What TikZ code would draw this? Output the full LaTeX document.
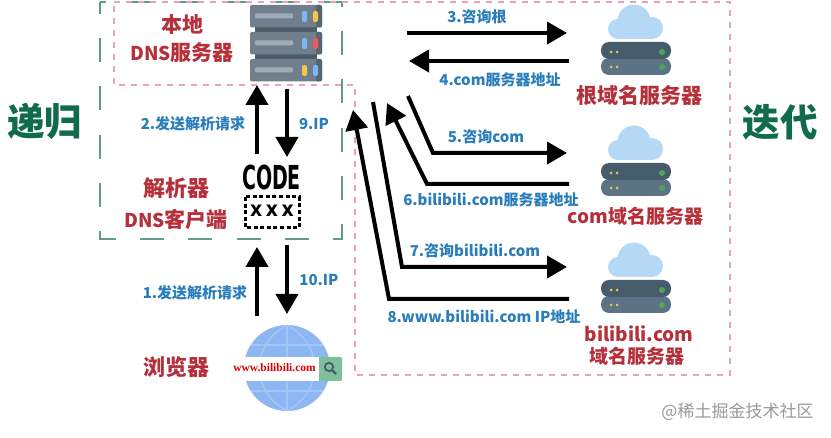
\documentclass[tikz,border=0pt]{standalone}
\usepackage{fontspec}
\setmainfont{Noto Sans CJK SC}
\newfontfamily\lat{Noto Sans CJK SC}[Scale=0.905]
\newfontfamily\condfont{DejaVu Sans Condensed}
\usetikzlibrary{arrows.meta,calc}
\definecolor{redtxt}{HTML}{B5303A}
\definecolor{bluetxt}{HTML}{2A7DBB}
\definecolor{greentxt}{HTML}{0F6B4A}
\definecolor{greenbox}{HTML}{5F9C86}
\definecolor{pinkbox}{HTML}{E8A3BC}
\definecolor{cloudc}{HTML}{B5D8F5}
\definecolor{srvA}{HTML}{465C6B}
\definecolor{srvB}{HTML}{5B7385}
\definecolor{rackA}{HTML}{707F8B}
\definecolor{rackB}{HTML}{56666F}
\definecolor{rackC}{HTML}{4C5D68}
\definecolor{rackD}{HTML}{A0ACB4}
\definecolor{globeA}{HTML}{8DB7F2}
\definecolor{globeB}{HTML}{A3C6F6}
\definecolor{ledB}{HTML}{7DB6F2}
\definecolor{ledY}{HTML}{F3C64E}
\definecolor{ledR}{HTML}{EE5A5F}
\definecolor{ledG}{HTML}{4FA85A}
\definecolor{dotY}{HTML}{E9C85A}
\definecolor{searchG}{HTML}{7FBF9E}
\tikzset{
  x=1pt,y=-1pt,
  redlabel/.style={text=redtxt,font=\bfseries\fontsize{21}{23}\selectfont,inner sep=0pt,align=center},
  redsmall/.style={text=redtxt,font=\bfseries\fontsize{19}{21}\selectfont,inner sep=0pt,align=center},
  redwide/.style={text=redtxt,font=\bfseries\fontsize{22}{24}\selectfont,inner sep=0pt,align=center},
  bluelabel/.style={text=bluetxt,font=\bfseries\fontsize{15}{17}\selectfont,inner sep=0pt},
  biglabel/.style={text=greentxt,font=\bfseries\fontsize{37.5}{40}\selectfont,inner sep=0pt},
  flow/.style={draw=black,line width=4pt,-{Triangle[length=20pt,width=22pt]}},
  greendash/.style={draw=greenbox,line width=1.3pt,dash pattern=on 24pt off 24.2pt,dash phase=12pt},
  pinkdash/.style={draw=pinkbox,line width=1.3pt,dash pattern=on 6pt off 6pt},
}
\newcommand{\cloudsrv}[1]{%
\begin{scope}[shift={(0,#1)}]
  \fill[cloudc] (634,21) circle(16.5);
  \fill[cloudc] (618,29) circle(10);
  \fill[cloudc] (652,28) circle(11);
  \fill[cloudc] (618,27) rectangle (652,39);
  \fill[srvB,rounded corners=8pt] (601,58) rectangle (671,75);
  \fill[srvA,rounded corners=8pt] (601,42) rectangle (671,59);
  \foreach \yy in {52,67}{
    \fill[dotY] (611,\yy) circle(1.5);
    \fill[dotY] (617,\yy) circle(1.5);
    \fill[ledG] (662,\yy) circle(3);
  }
\end{scope}}
\begin{document}
\begin{tikzpicture}
\useasboundingbox (0,0) rectangle (831,438);
\fill[white] (0,0) rectangle (831,438);
% frames
\draw[greendash] (100,2) rectangle (342,239);
\draw[pinkdash] (114,2) -- (730,2) -- (730,375) -- (355,375) -- (355,85) -- (114,85) -- cycle;
% local server
\fill[rackC] (255,26) rectangle (317,33);
\fill[rackC] (255,53) rectangle (317,60);
\foreach \yy/\ca/\cb in {5/ledB/ledY,32/ledB/ledR,59/ledY/ledB}{
  \fill[rackA,rounded corners=2pt] (250,\yy) rectangle (322,\yy+22.5);
  \fill[rackB,rounded corners=2pt] (316,\yy) rectangle (322,\yy+22.5);
  \fill[rackD,rounded corners=1pt] (255,\yy+8.5) rectangle (293,\yy+13.5);
  \fill[\ca,rounded corners=2pt] (302,\yy+6) rectangle (307,\yy+17);
  \fill[\cb,rounded corners=2pt] (313,\yy+6) rectangle (318,\yy+17);
}
\cloudsrv{0}
\cloudsrv{121}
\cloudsrv{238}
% CODE icon
\node[inner sep=0pt,font=\condfont\bfseries\fontsize{33}{33}\selectfont,xscale=.64] (code) at (271.5,177) {CODE};
\draw[line width=3pt,dash pattern=on 4pt off 2.6pt] (245,197) rectangle (299,228);
\node[inner sep=0pt,font=\condfont\bfseries\fontsize{21}{21}\selectfont] (xxx) at (272,211) {x\,x\,x};
% globe
\fill[globeA] (287,368) circle(43);
\begin{scope}
  \clip (287,368) circle(43);
  \draw[globeB,line width=1.5pt] (287,325) -- (287,411) (244,368) -- (330,368);
  \draw[globeB,line width=1.5pt] (245,345) -- (329,345) (245,391) -- (329,391);
  \draw[globeB,line width=1.5pt] (287,325) .. controls (250,345) and (250,391) .. (287,411);
  \draw[globeB,line width=1.5pt] (287,325) .. controls (324,345) and (324,391) .. (287,411);
\end{scope}
\fill[white] (232,357) rectangle (319,381);
\fill[searchG,rounded corners=1.5pt] (319,357) rectangle (342,381);
\draw[srvA,line width=1.8pt] (329,367) circle(4.2);
\draw[srvA,line width=2.2pt] (332,370) -- (336,374);
\node[inner sep=0pt,text=red!85!black,font=\fontspec{Liberation Serif}\bfseries\fontsize{11.5}{13}\selectfont] (url) at (274.5,368) {www.bilibili.com};
% coordinates
\coordinate (a2s) at (257,154); \coordinate (a2e) at (257,85);
\coordinate (a9s) at (287,89);  \coordinate (a9e) at (287,157);
\coordinate (a1s) at (257,316); \coordinate (a1e) at (257,247);
\coordinate (a10s) at (287,245); \coordinate (a10e) at (287,314);
\coordinate (a3s) at (407,33);  \coordinate (a3e) at (567,33);
\coordinate (a4s) at (569,61);  \coordinate (a4e) at (409,61);
\coordinate (a5s) at (408,96);  \coordinate (a5m) at (433,153); \coordinate (a5e) at (567,153);
\coordinate (a6s) at (569,184); \coordinate (a6m) at (427,184); \coordinate (a6e) at (387,103);
\coordinate (a7s) at (373,102); \coordinate (a7m) at (402,267); \coordinate (a7e) at (567,267);
\coordinate (a8s) at (569,299); \coordinate (a8m) at (389,299); \coordinate (a8e) at (353,110);
\draw[flow] (a2s) -- (a2e);
\draw[flow] (a9s) -- (a9e);
\draw[flow] (a1s) -- (a1e);
\draw[flow] (a10s) -- (a10e);
\draw[flow] (a3s) -- (a3e);
\draw[flow] (a4s) -- (a4e);
\draw[flow] (a5s) -- (a5m) -- (a5e);
\draw[flow] (a6s) -- (a6m) -- (a6e);
\draw[flow] (a7s) -- (a7m) -- (a7e);
\draw[flow] (a8s) -- (a8m) -- (a8e);
% labels
\node[redlabel] (l1) at (182,25) {本地};
\node[redlabel] (l2) at (182,53) {{\lat DNS}服务器};
\node[redwide] (l3) at (176,188) {解析器};
\node[redlabel] (l4) at (176,219) {{\lat DNS}客户端};
\node[redwide] (l5) at (176,367) {浏览器};
\node[redlabel] (l6) at (639,95) {根域名服务器};
\node[redsmall] (l7) at (635.5,216) {com域名服务器};
\node[redlabel] (l8) at (639,334) {{\lat bilibili.com}};
\node[redsmall] (l9) at (637,356) {域名服务器};
\node[bluelabel] (b2) at (193,124) {2.发送解析请求};
\node[bluelabel] (b9) at (314,124) {9.IP};
\node[bluelabel] (b1) at (195,293) {1.发送解析请求};
\node[bluelabel] (b10) at (319,280) {10.IP};
\node[bluelabel] (b3) at (477,17) {3.咨询根};
\node[bluelabel] (b4) at (500,80) {4.com服务器地址};
\node[bluelabel] (b5) at (486,137) {5.咨询com};
\node[bluelabel] (b6) at (491,200) {6.bilibili.com服务器地址};
\node[bluelabel] (b7) at (475,251) {7.咨询bilibili.com};
\node[bluelabel] (b8) at (484,317) {8.www.bilibili.com IP地址};
\node[biglabel] (rec) at (44.5,121) {递归};
\node[biglabel] (ite) at (780,122) {迭代};
\node[inner sep=0pt,text=black!40,font=\fontsize{17}{19}\selectfont] (wm) at (737.5,412) {@稀土掘金技术社区};
\end{tikzpicture}
\end{document}
